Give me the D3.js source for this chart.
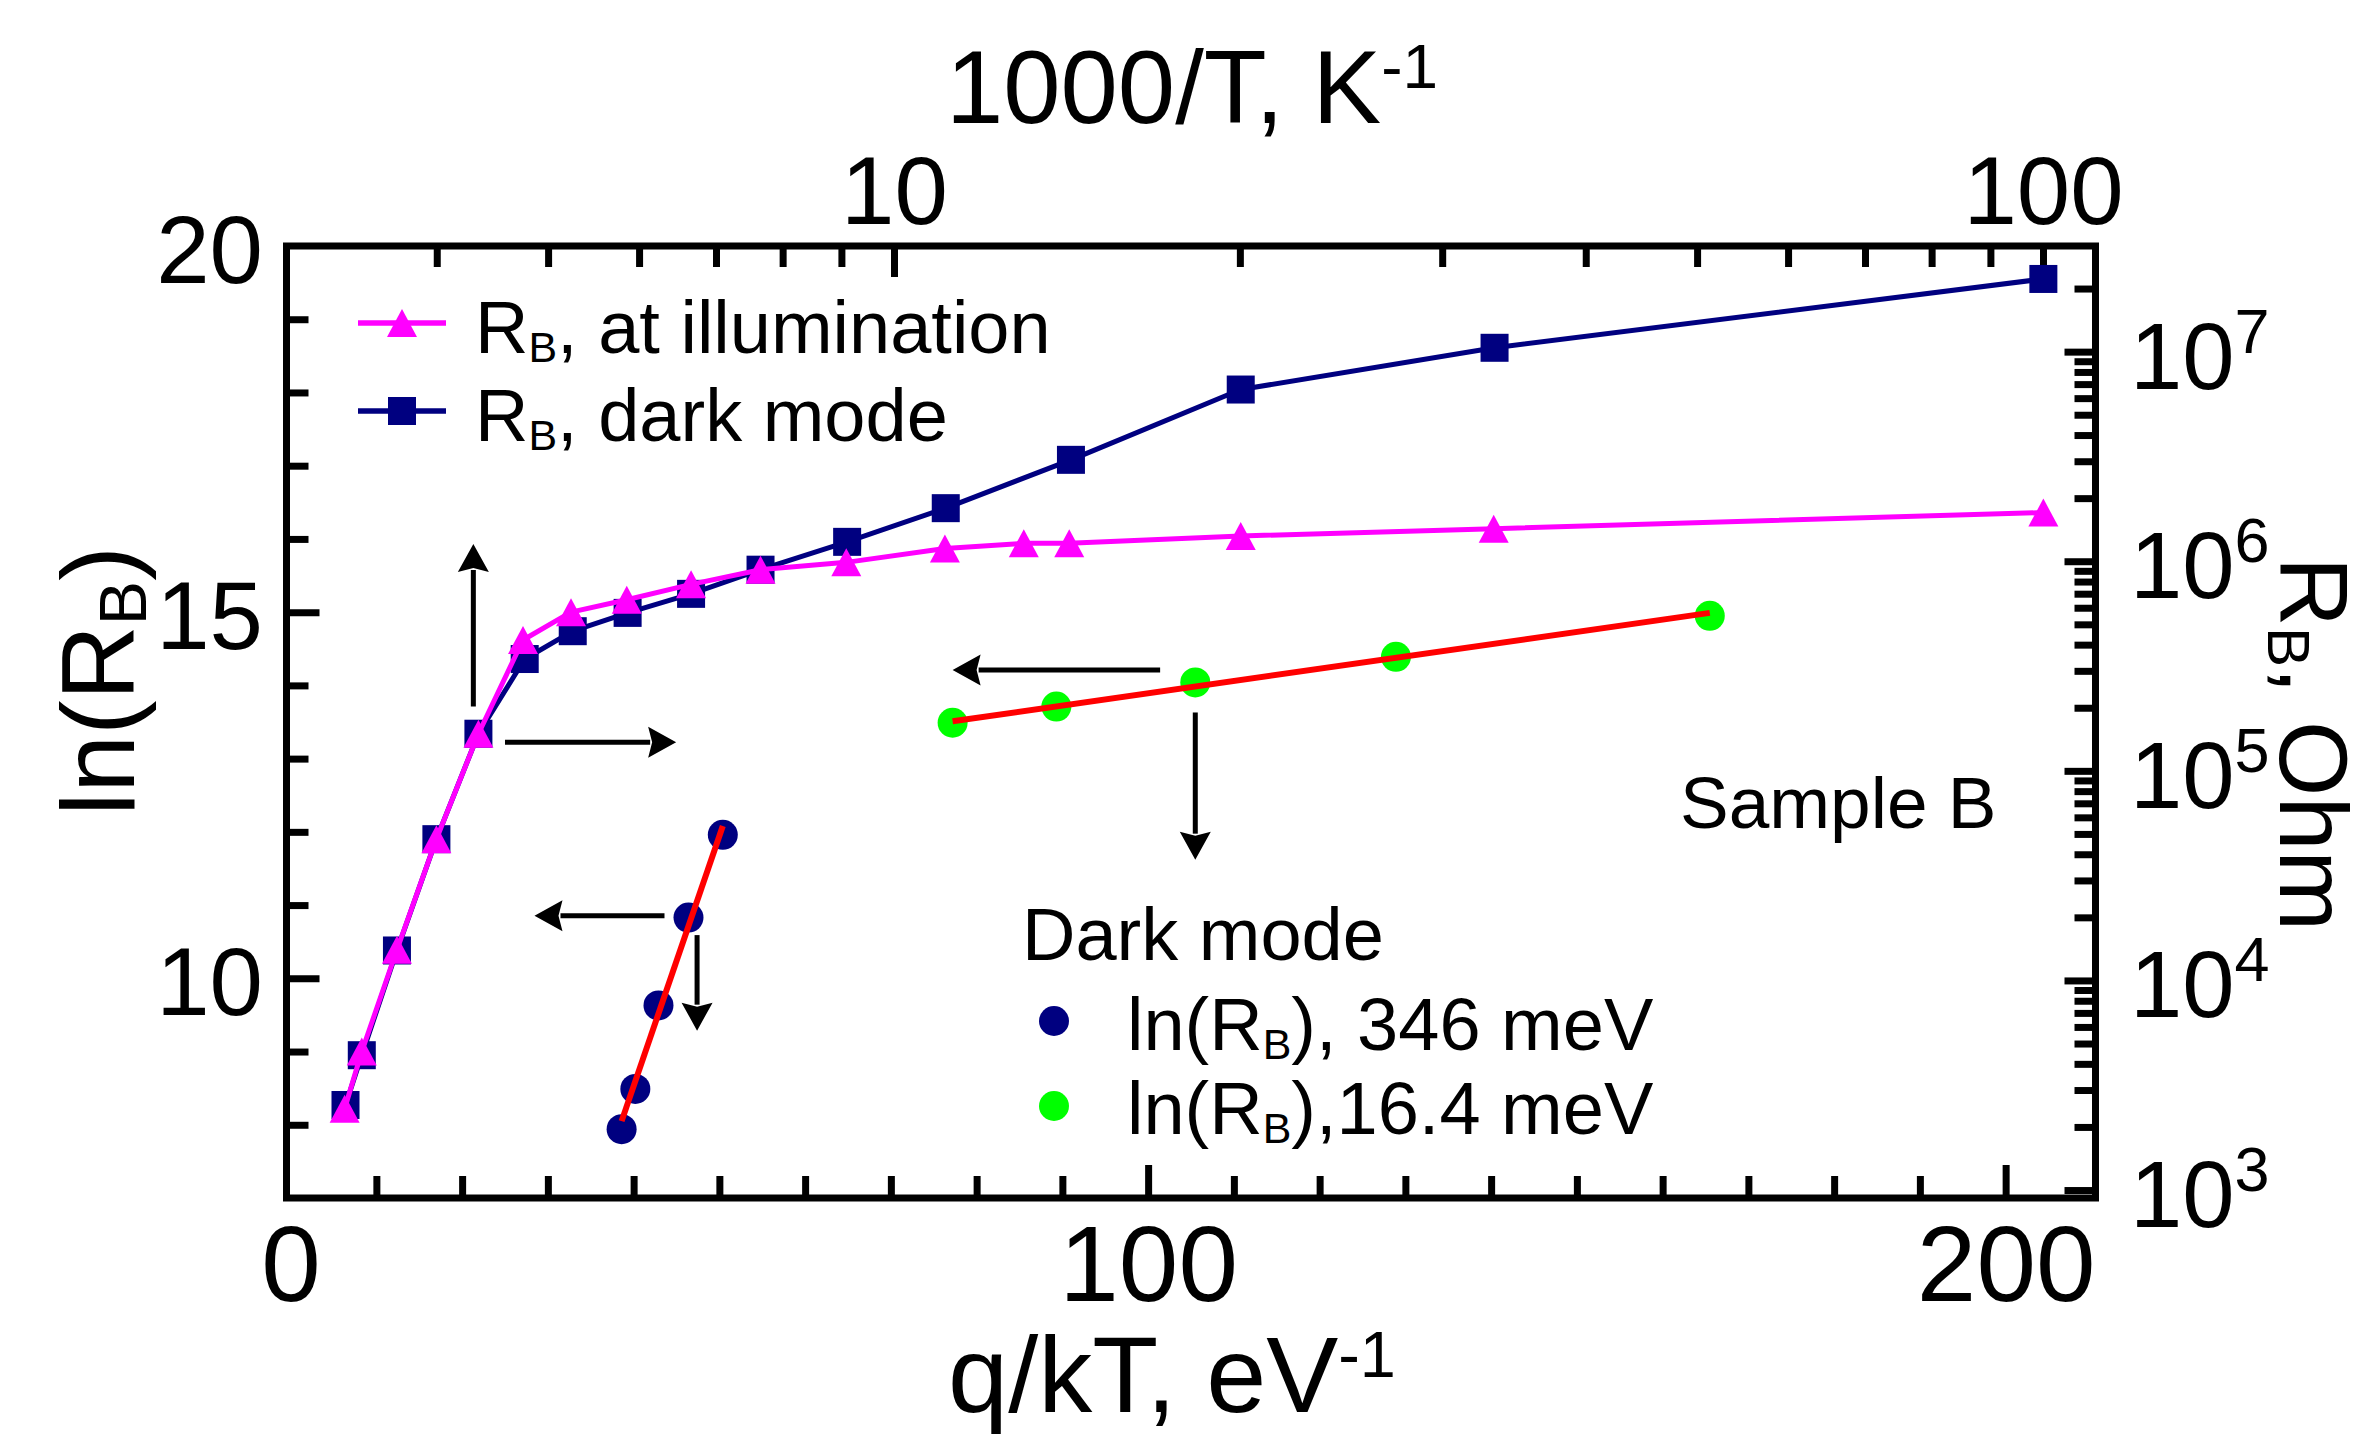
<!DOCTYPE html>
<html>
<head>
<meta charset="utf-8">
<script src="https://cdn.jsdelivr.net/npm/d3@7"></script>
<style>
html,body{margin:0;padding:0;background:#fff;}
svg{display:block;}
</style>
</head>
<body>
<svg id="c" width="2368" height="1437"></svg>
<script>
// ---------------- data ----------------
const illumX = [6.3, 8.3, 12.4, 17.0, 21.9, 27.1, 32.7, 39.2, 46.7, 54.8, 64.8, 76.3, 85.5, 90.8, 110.8, 140.3, 204.4];
const illumY = [8.22, 9.0, 10.39, 11.90, 13.34, 14.62, 15.0, 15.17, 15.38, 15.58, 15.68, 15.87, 15.94, 15.94, 16.04, 16.14, 16.36];
const darkX  = [6.4, 8.3, 12.4, 17.0, 21.9, 27.3, 32.9, 39.3, 46.7, 54.8, 64.9, 76.4, 91.0, 110.8, 140.4, 204.4];
const darkY  = [8.27, 8.95, 10.38, 11.90, 13.34, 14.36, 14.74, 14.99, 15.25, 15.58, 15.96, 16.42, 17.08, 18.04, 18.61, 19.55];
const dot346X = [38.6, 40.2, 42.9, 46.4, 50.4];
const dot346Y = [7.94, 8.49, 9.63, 10.83, 11.96];
const dot164X = [77.2, 89.3, 105.5, 128.9, 165.5];
const dot164Y = [13.49, 13.71, 14.04, 14.39, 14.95];
const fit346X = [38.6, 50.4];
const fit346Y = [8.05, 12.08];
const fit164X = [77.2, 165.5];
const fit164Y = [13.51, 14.99];
// annotation arrows (data coordinates: q/kT, ln(R_B))
const arrowFromX = [21.31, 25.0, 43.6, 47.4, 101.4, 105.5];
const arrowFromY = [13.71, 13.225, 10.855, 10.59, 14.21, 13.63];
const arrowToX   = [21.31, 44.96, 28.44, 47.4, 77.2, 105.5];
const arrowToY   = [15.93, 13.225, 10.855, 9.285, 14.21, 11.62];
// ticks
const bottomTicks = [0, 100, 200];
const bottomMinor = [10,20,30,40,50,60,70,80,90,110,120,130,140,150,160,170,180,190];
const leftTicks = [10, 15, 20];
const leftMinor = [8, 9, 11, 12, 13, 14, 16, 17, 18, 19];
const topTicks = [10, 100];
const topMinor = [4,5,6,7,8,9,20,30,40,50,60,70,80,90];
const rightExps = [3, 4, 5, 6, 7];
const rightMinorMant = [2,3,4,5,6,7,8,9];

// ---------------- layout ----------------
const L = 286.5, R = 2095.5, T = 246, B = 1198;
const FONT = '"Liberation Sans", Arial, Helvetica, sans-serif';
const PINK = '#ff00ff', NAVY = '#000080', GREEN = '#00ff00', RED = '#ff0000';
const svg = d3.select('#c');

const x = d3.scaleLinear().domain([-0.48, 210.48]).range([L, R]);
const y = d3.scaleLinear().domain([7, 20]).range([B, T]);
const xTop = d3.scaleLog().domain([2.96, 111.1]).range([L, R]);
const yR = d3.scaleLog().domain([Math.pow(10, 2.962), Math.pow(10, 7.504)]).range([B, T]);

function styleAxis(g) {
  g.select('.domain').remove();
  g.selectAll('.tick line').attr('stroke', '#000').attr('stroke-width', 7);
  g.selectAll('.tick text').attr('fill', '#000').attr('font-family', FONT);
}

function rich(parent, x0, y0, parts, fs, anchor, rot) {
  const t = parent.append('text').attr('font-family', FONT).attr('font-size', fs)
    .attr('text-anchor', anchor || 'start').attr('fill', '#000');
  if (rot) t.attr('transform', `translate(${x0},${y0}) rotate(${rot})`);
  else t.attr('x', x0).attr('y', y0);
  let shift = 0;
  parts.forEach(p => {
    const s = t.append('tspan').text(p.t);
    let target = 0, size = fs;
    if (p.sub) { target = 0.12 * fs; size = (p.size || 0.58) * fs; }
    if (p.sup) { target = -(p.raise || 0.34) * fs; size = (p.size || 0.62) * fs; }
    s.attr('font-size', size);
    if (target !== shift) { s.attr('dy', target - shift); shift = target; }
  });
  return t;
}

// ---------------- axes ----------------
// bottom
svg.append('g').attr('transform', `translate(0,${B})`)
  .call(d3.axisBottom(x).tickValues(bottomMinor).tickSize(-22).tickSizeOuter(0).tickFormat(''))
  .call(styleAxis);
const gb = svg.append('g').attr('transform', `translate(0,${B})`)
  .call(d3.axisBottom(x).tickValues(bottomTicks).tickSize(-33).tickSizeOuter(0).tickPadding(27).tickFormat(d3.format('d')))
  .call(styleAxis);
gb.selectAll('.tick text').attr('font-size', 107);
gb.selectAll('.tick').filter(d => Math.abs(x(d) - L) < 8 || Math.abs(x(d) - R) < 8).select('line').remove();

// left
svg.append('g').attr('transform', `translate(${L},0)`)
  .call(d3.axisLeft(y).tickValues(leftMinor).tickSize(-22).tickSizeOuter(0).tickFormat(''))
  .call(styleAxis);
const gl = svg.append('g').attr('transform', `translate(${L},0)`)
  .call(d3.axisLeft(y).tickValues(leftTicks).tickSize(-33).tickSizeOuter(0).tickPadding(23.5).tickFormat(d3.format('d')))
  .call(styleAxis);
gl.selectAll('.tick text').attr('font-size', 96).attr('dy', '0.38em');
gl.selectAll('.tick').filter(d => Math.abs(y(d) - T) < 8).select('line').remove();

// top (log, 1000/T)
svg.append('g').attr('transform', `translate(0,${T})`)
  .call(d3.axisTop(xTop).tickValues(topMinor).tickSize(-21).tickSizeOuter(0).tickFormat(''))
  .call(styleAxis);
const gt = svg.append('g').attr('transform', `translate(0,${T})`)
  .call(d3.axisTop(xTop).tickValues(topTicks).tickSize(-31).tickSizeOuter(0).tickPadding(22).tickFormat(d3.format('d')))
  .call(styleAxis);
gt.selectAll('.tick text').attr('font-size', 96);

// right (log, R_B in Ohm)
const rMajor = rightExps.map(e => Math.pow(10, e));
const rMinor = [];
rightExps.forEach(e => rightMinorMant.forEach(m => rMinor.push(m * Math.pow(10, e))));
const rMinorIn = rMinor.filter(v => yR(v) > T + 8 && yR(v) < B - 6);
svg.append('g').attr('transform', `translate(${R},0)`)
  .call(d3.axisRight(yR).tickValues(rMinorIn).tickSize(-21).tickSizeOuter(0).tickFormat(''))
  .call(styleAxis);
svg.append('g').attr('transform', `translate(${R},0)`)
  .call(d3.axisRight(yR).tickValues(rMajor).tickSize(-31).tickSizeOuter(0).tickFormat(''))
  .call(styleAxis);
const rl = svg.append('g');
rightExps.forEach(e => {
  rich(rl, R + 34.5, yR(Math.pow(10, e)) + 37, [{t: '10'}, {t: String(e), sup: true, size: 0.67, raise: 0.383}], 94, 'start');
});

// frame
svg.append('rect').attr('x', L).attr('y', T).attr('width', R - L).attr('height', B - T)
  .attr('fill', 'none').attr('stroke', '#000').attr('stroke-width', 7);

// ---------------- axis titles ----------------
rich(svg, 1192, 123, [{t: '1000/T, K'}, {t: '-1', sup: true}], 103, 'middle');
rich(svg, 1172, 1412, [{t: 'q/kT, eV'}, {t: '-1', sup: true, size: 0.6, raise: 0.32}], 108, 'middle');
rich(svg, 134, 681, [{t: 'ln(R'}, {t: 'B', sub: true, size: 0.64}, {t: ')'}], 104, 'middle', -90);
rich(svg, 2280, 744, [{t: 'R'}, {t: 'B', sub: true, size: 0.62}, {t: ', Ohm'}], 97, 'middle', 90);

// ---------------- data ----------------
const plot = svg.append('g');
const line = d3.line().x(d => x(d[0])).y(d => y(d[1]));
const darkPts = darkX.map((v, i) => [v, darkY[i]]);
const illumPts = illumX.map((v, i) => [v, illumY[i]]);

const triPath = 'M0,-14 L15,14 L-15,14 Z';

// dots
plot.selectAll('circle.d346').data(dot346X.map((v, i) => [v, dot346Y[i]])).enter()
  .append('circle').attr('class', 'd346')
  .attr('cx', d => x(d[0])).attr('cy', d => y(d[1])).attr('r', 15).attr('fill', NAVY);
plot.selectAll('circle.d164').data(dot164X.map((v, i) => [v, dot164Y[i]])).enter()
  .append('circle').attr('class', 'd164')
  .attr('cx', d => x(d[0])).attr('cy', d => y(d[1])).attr('r', 15).attr('fill', GREEN);

// red fit lines
plot.append('path').datum(fit346X.map((v, i) => [v, fit346Y[i]])).attr('d', line)
  .attr('fill', 'none').attr('stroke', RED).attr('stroke-width', 6);
plot.append('path').datum(fit164X.map((v, i) => [v, fit164Y[i]])).attr('d', line)
  .attr('fill', 'none').attr('stroke', RED).attr('stroke-width', 6);

// dark mode series
plot.append('path').datum(darkPts).attr('d', line)
  .attr('fill', 'none').attr('stroke', NAVY).attr('stroke-width', 5).attr('stroke-linejoin', 'round');
plot.selectAll('rect.dk').data(darkPts).enter().append('rect').attr('class', 'dk')
  .attr('x', d => x(d[0]) - 14).attr('y', d => y(d[1]) - 14).attr('width', 28).attr('height', 28)
  .attr('fill', NAVY);

// illumination series
plot.append('path').datum(illumPts).attr('d', line)
  .attr('fill', 'none').attr('stroke', PINK).attr('stroke-width', 5).attr('stroke-linejoin', 'round');
plot.selectAll('path.il').data(illumPts).enter().append('path').attr('class', 'il')
  .attr('transform', d => `translate(${x(d[0])},${y(d[1])})`).attr('d', triPath).attr('fill', PINK);

// ---------------- arrows ----------------
const arr = svg.append('g');
arrowFromX.forEach((_, i) => {
  const x0 = x(arrowFromX[i]), y0 = y(arrowFromY[i]);
  const x1 = x(arrowToX[i]), y1 = y(arrowToY[i]);
  const dx = x1 - x0, dy = y1 - y0, len = Math.hypot(dx, dy);
  const ux = dx / len, uy = dy / len;
  const hl = 28, hw = 15.5;
  const bx = x1 - ux * hl, by = y1 - uy * hl;
  arr.append('line').attr('x1', x0).attr('y1', y0).attr('x2', bx + ux * 2).attr('y2', by + uy * 2)
    .attr('stroke', '#000').attr('stroke-width', 5);
  const pts = [[x1, y1], [bx - uy * hw, by + ux * hw], [bx + ux * 4, by + uy * 4], [bx + uy * hw, by - ux * hw]];
  arr.append('path').attr('d', 'M' + pts.map(p => p.join(',')).join('L') + 'Z').attr('fill', '#000');
});

// ---------------- legends ----------------
const lg = svg.append('g');
lg.append('line').attr('x1', 358).attr('x2', 446).attr('y1', 323).attr('y2', 323).attr('stroke', PINK).attr('stroke-width', 5.5);
lg.append('path').attr('transform', 'translate(402,323)').attr('d', triPath).attr('fill', PINK);
rich(lg, 475, 353, [{t: 'R'}, {t: 'B', sub: true}, {t: ', at illumination'}], 74, 'start');
lg.append('line').attr('x1', 358).attr('x2', 446).attr('y1', 411).attr('y2', 411).attr('stroke', NAVY).attr('stroke-width', 5.5);
lg.append('rect').attr('x', 388).attr('y', 397).attr('width', 28).attr('height', 28).attr('fill', NAVY);
rich(lg, 475, 441, [{t: 'R'}, {t: 'B', sub: true}, {t: ', dark mode'}], 74, 'start');

rich(lg, 1022, 960, [{t: 'Dark mode'}], 74, 'start');
lg.append('circle').attr('cx', 1054).attr('cy', 1021).attr('r', 15).attr('fill', NAVY);
rich(lg, 1127, 1050, [{t: 'ln(R'}, {t: 'B', sub: true}, {t: '), 346 meV'}], 74, 'start');
lg.append('circle').attr('cx', 1054).attr('cy', 1106).attr('r', 15).attr('fill', GREEN);
rich(lg, 1127, 1134, [{t: 'ln(R'}, {t: 'B', sub: true}, {t: '),16.4 meV'}], 74, 'start');

rich(lg, 1680, 828, [{t: 'Sample B'}], 73, 'start');
</script>
</body>
</html>
